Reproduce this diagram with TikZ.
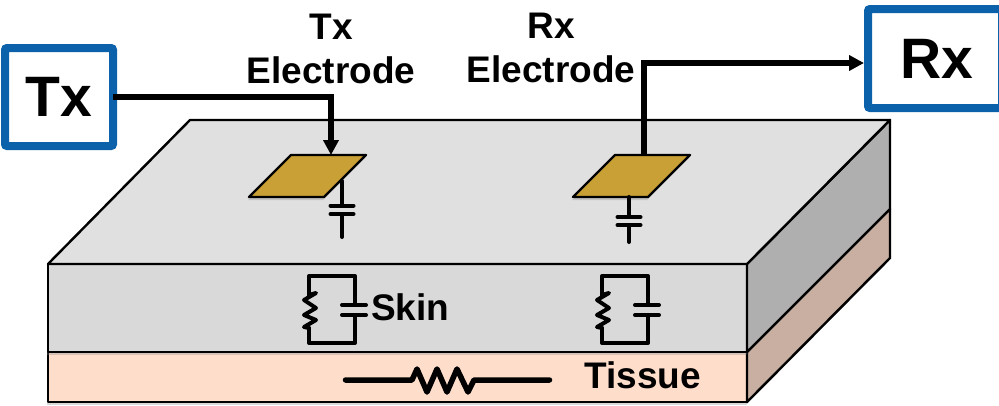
\documentclass[tikz,border=0pt]{standalone}
\usepackage{fontspec}
\setmainfont{Liberation Sans}
\usetikzlibrary{positioning,arrows.meta,shadows,calc}
\definecolor{topgray}{HTML}{E0E0E0}
\definecolor{skingray}{HTML}{D9D9D9}
\definecolor{sidegray}{HTML}{AFAFAF}
\definecolor{tissuefront}{HTML}{FFDDCB}
\definecolor{tissueside}{HTML}{C9AFA1}
\definecolor{padgold}{HTML}{C9A035}
\definecolor{boxblue}{HTML}{0B62AA}
\tikzset{>=latex}
\begin{document}
\begin{tikzpicture}[
      x=1pt,y=-1pt,
      % define styles
      layer/.style={draw=black,line width=2.4pt,line join=round},
      softshadow/.style={drop shadow={shadow xshift=-1pt,shadow yshift=-3pt,opacity=.3}},
      pad/.style={layer,fill=padgold,softshadow},
      devbox/.style={draw=boxblue,line width=8pt,fill=white,rounded corners=2pt,outer sep=0pt,
           font=\bfseries\fontsize{57}{60}\selectfont},
      lab/.style={font=\bfseries\fontsize{37}{44}\selectfont,align=center,inner sep=0pt,anchor=base},
      wire/.style={line width=5.5pt,line join=miter},
      circuit/.style={line width=4pt,line cap=round,line join=round}
  ]
  \clip (0,0) rectangle (999,405);
  % Tissue layer
  \fill[white] (0,0) rectangle (999,405);
  \draw[layer,fill=tissuefront,softshadow] (48,352) rectangle (747,402);
  \draw[layer,fill=tissueside,softshadow] (747,352) -- (890,209) -- (890,258) -- (747,402) -- cycle;
  % Skin layer
  \draw[layer,fill=skingray,softshadow] (48,264) rectangle (747,352);
  \draw[layer,fill=sidegray,softshadow] (747,264) -- (890,120) -- (890,209) -- (747,352) -- cycle;
  \draw[layer,fill=topgray] (190,120) -- (890,120) -- (747,264) -- (48,264) -- cycle;
  % Electrodes
  \draw[pad] (249,197) -- (291,155) -- (366,155) -- (324,197) -- cycle;
  \draw[pad] (573,197) -- (615,155) -- (690,155) -- (648,197) -- cycle;
  \coordinate (txpad) at (331,155);
  \coordinate (rxpad) at (644,155);
  % Series capacitors under the electrodes
  \foreach \x/\ya/\yb/\yc/\yd in {342/181/205.5/214/237, 629/197/217/225/242}{
      \draw[circuit] (\x,\ya) -- (\x,\yb) (\x-11.5,\yb) -- (\x+11.5,\yb);
      \draw[circuit] (\x-11.5,\yc) -- (\x+11.5,\yc) (\x,\yc) -- (\x,\yd);
  }
  % Parallel R and C in the skin
  \foreach \x in {309,602}{
      \draw[circuit] (\x,295) -- (\x,276) -- (\x+46,276) -- (\x+46,305)
           (\x+33,305) -- (\x+57,305) (\x+33,315) -- (\x+57,315)
           (\x+46,315) -- (\x+46,343) -- (\x,343) -- (\x,328);
      \draw[circuit] (\x,295) -- (\x+7,293) -- (\x-5,300) -- (\x+7,308) -- (\x-5,315)
           -- (\x+7,320) -- (\x-5,327) -- (\x,328);
  }
  % Resistor in the tissue
  \draw[line width=5.5pt,line cap=round,line join=round] (345.5,380) -- (412,380) -- (417,369) -- (427,392) -- (437,369)
       -- (447,392) -- (457,369) -- (468,392) -- (474,380) -- (549.5,380);
  % Boxes
  \node[devbox,minimum width=108pt,minimum height=98pt] (txbox) at (59,97) {Tx};
  \node[devbox,minimum width=134pt,minimum height=99pt,text width=70pt,align=left] (rxbox) at (935,58.5) {Rx};
  \coordinate (rxin) at (864,63);
  % Wires
  \draw[wire,-{Triangle[length=15pt,width=15pt]}] (txbox.east) -| (txpad);
  \draw[wire,-{Triangle[length=15pt,width=15pt]}] (rxpad) |- (rxin);
  % Labels
  \node[lab] (txlabel) at (331,83) {Tx\\Electrode};
  \node[lab] (rxlabel) at (551,82) {Rx\\Electrode};
  \node[lab,anchor=base west] (skin) at (371,320) {Skin};
  \node[lab,anchor=base west] (tissue) at (584,388) {Tissue};
\end{tikzpicture}
\end{document}
